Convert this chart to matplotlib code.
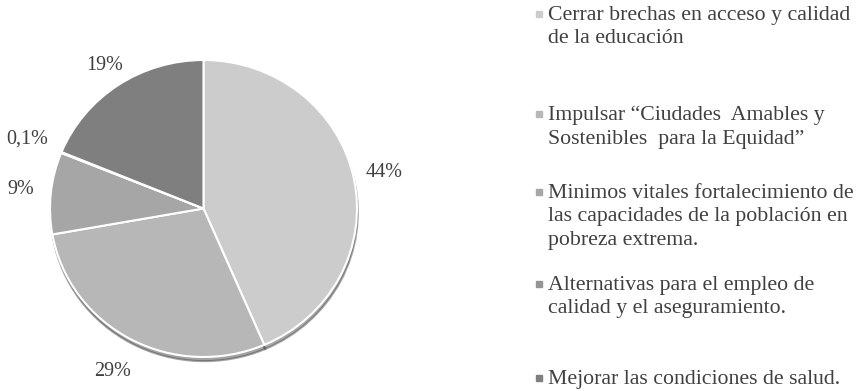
import matplotlib

matplotlib.use("Agg")

import matplotlib.pyplot as plt
from matplotlib.lines import Line2D

plt.rcParams["font.family"] = ["Liberation Serif", "DejaVu Serif"]

shares = [44, 29, 9, 0.1, 19]
share_labels = ["44%", "29%", "9%", "0,1%", "19%"]
categories = [
    "Cerrar brechas en acceso y calidad\nde la educación",
    "Impulsar \u201cCiudades  Amables y\nSostenibles  para la Equidad\u201d",
    "Minimos vitales fortalecimiento de\nlas capacidades de la población en\npobreza extrema.",
    "Alternativas para el empleo de\ncalidad y el aseguramiento.",
    "Mejorar las condiciones de salud.",
]
colors = ["#cccccc", "#b7b7b7", "#a6a6a6", "#949494", "#7f7f7f"]
text_color = "#404040"

# layout only: label distance per slice, legend first-line centres (px from top)
label_dist = [1.2, 1.25, 1.2, 1.24, 1.16]
legend_rows = [14, 114, 192, 284, 378]

W, H = 861, 391
fig = plt.figure(figsize=(W / 100, H / 100), dpi=100)
ax = fig.add_axes([50 / W, 34 / H, 307 / W, 297 / H])

wedges, texts = ax.pie(
    shares,
    labels=share_labels,
    colors=colors,
    startangle=90,
    counterclock=False,
    labeldistance=1.0,
    wedgeprops={"edgecolor": "white", "linewidth": 1.5},
    textprops={"fontsize": 14.5, "color": text_color},
    shadow={"ox": 0.004, "oy": -0.02, "shade": 0.6},
)
for t, d in zip(texts, label_dist):
    x, y = t.get_position()
    t.set_position((x * d, y * d))
    t.set_horizontalalignment("center")
    t.set_verticalalignment("center")
ax.set_xlim(-1, 1)
ax.set_ylim(-1, 1)
ax.set_aspect("auto")

for label, color, row in zip(categories, colors, legend_rows):
    fig.add_artist(Line2D([539 / W], [1 - row / H], marker="s", linestyle="none",
                          markersize=4.2, markerfacecolor=color, markeredgecolor=color,
                          transform=fig.transFigure))
    fig.text(548 / W, 1 - (row - 8) / H, label, fontsize=15.7, color=text_color,
             ha="left", va="top", linespacing=1.32,
             transform=fig.transFigure)

fig.savefig("out.png", dpi=100)
